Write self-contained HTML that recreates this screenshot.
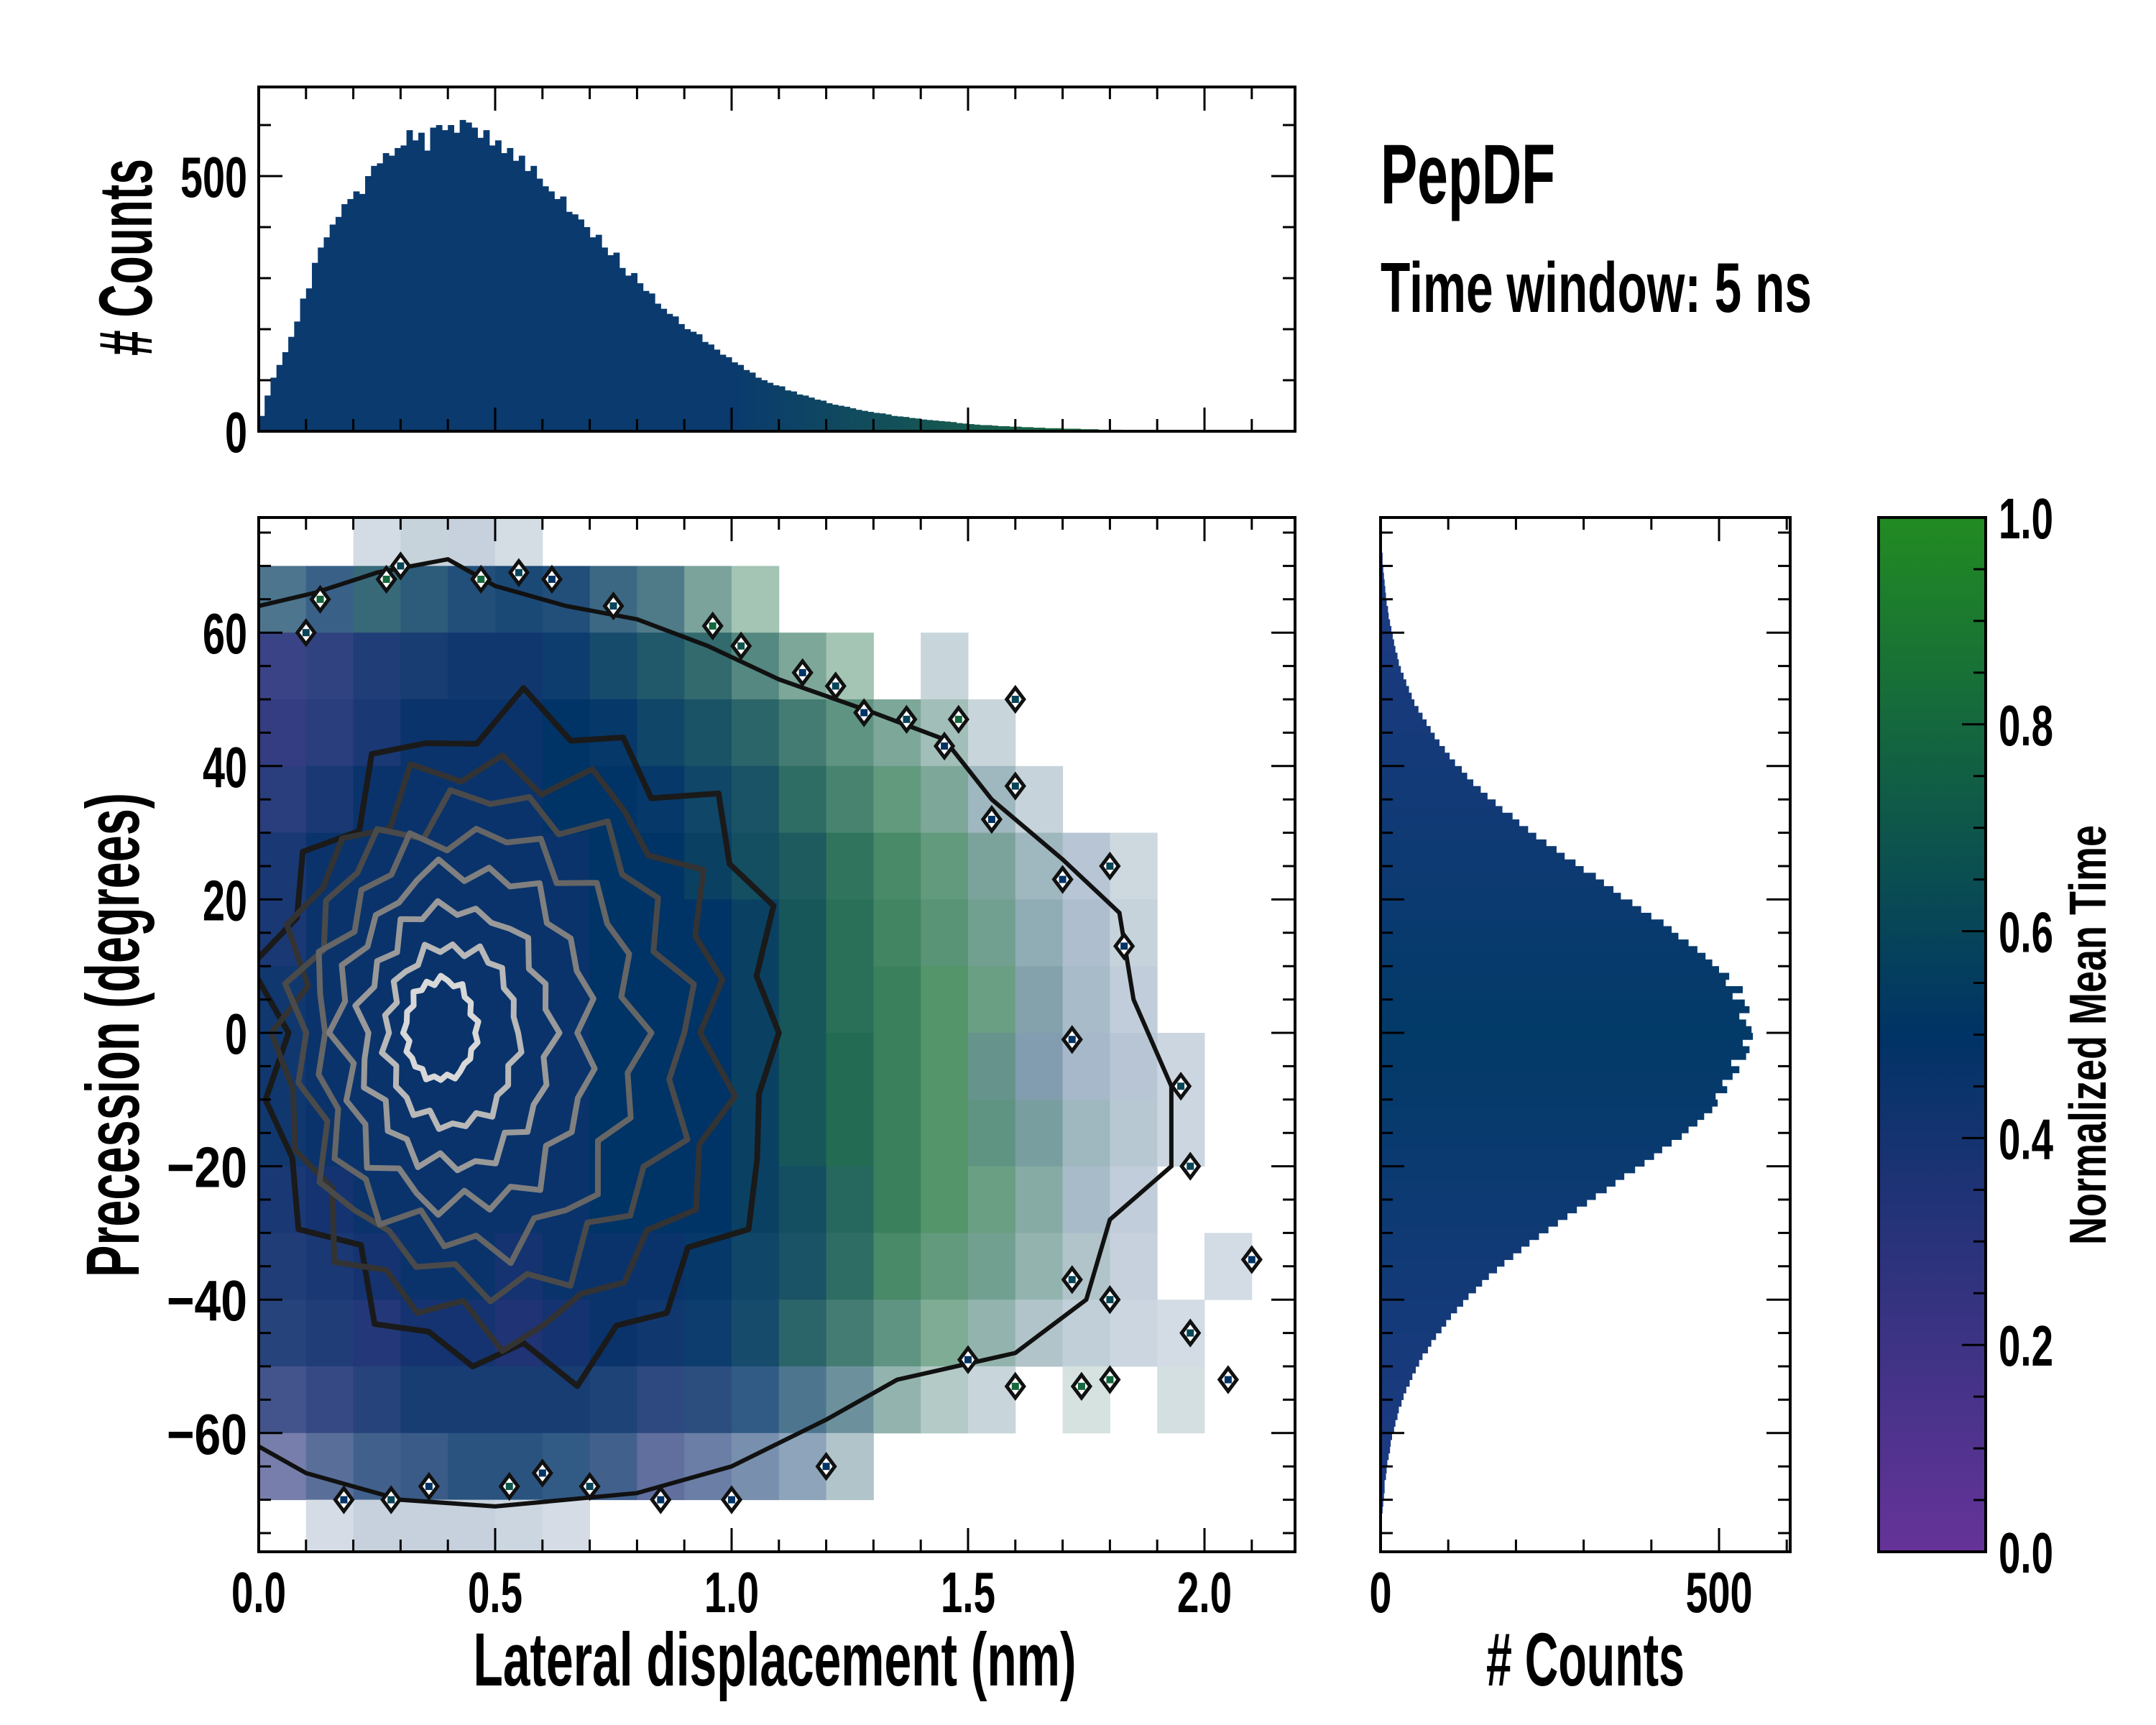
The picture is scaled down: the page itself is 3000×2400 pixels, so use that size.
<!DOCTYPE html>
<html><head><meta charset="utf-8"><style>
html,body{margin:0;padding:0;background:#fff;}
svg{display:block;}
text{font-family:"Liberation Sans Narrow","Liberation Sans",sans-serif;font-weight:bold;fill:#000;}
</style></head><body>
<svg id="fig" xmlns="http://www.w3.org/2000/svg" width="3000" height="2400" viewBox="0 0 3000 2400">
<defs>
<clipPath id="mainClip"><rect x="360" y="720" width="1442" height="1439"/></clipPath>
<linearGradient id="cbGrad" x1="0" y1="1" x2="0" y2="0">
<stop offset="0" stop-color="#663399"/><stop offset="0.5" stop-color="#003366"/><stop offset="1" stop-color="#228b22"/>
</linearGradient>
</defs>
<g id="heatLayer" clip-path="url(#mainClip)"></g>
<g id="contourLayer" clip-path="url(#mainClip)"></g>
<g id="topHist"></g>
<g id="rightHist"></g>
<rect x="2614" y="720" width="149" height="1439" fill="url(#cbGrad)"/>
<g id="ticks"></g>
<g id="frames"></g>
<g id="labels"></g>
<text x="1078" y="2345" font-size="105" text-anchor="middle" textLength="839" lengthAdjust="spacingAndGlyphs">Lateral displacement (nm)</text>
<text x="2206" y="2345" font-size="105" text-anchor="middle" textLength="276" lengthAdjust="spacingAndGlyphs"># Counts</text>
<text transform="translate(193,1440) rotate(-90)" font-size="105" text-anchor="middle" textLength="674" lengthAdjust="spacingAndGlyphs">Precession (degrees)</text>
<text transform="translate(211,358) rotate(-90)" font-size="105" text-anchor="middle" textLength="274" lengthAdjust="spacingAndGlyphs"># Counts</text>
<text transform="translate(2930,1440) rotate(-90)" font-size="72" text-anchor="middle" textLength="584" lengthAdjust="spacingAndGlyphs">Normalized Mean Time</text>
<text x="1921" y="283" font-size="118" textLength="243" lengthAdjust="spacingAndGlyphs">PepDF</text>
<text x="1921" y="434" font-size="98" textLength="600" lengthAdjust="spacingAndGlyphs">Time window: 5 ns</text>
</svg>
<script>
// ---------- DATA ----------
const latBinWidth = 0.0125;
const latCounts = [30,70,105,130,155,185,215,260,280,330,360,380,405,420,445,455,470,465,500,520,525,545,540,555,560,590,570,585,550,595,600,590,600,585,610,605,595,575,590,560,570,545,555,530,540,510,520,495,480,470,455,460,430,425,415,400,380,385,360,345,350,320,305,310,290,275,270,250,240,230,225,210,200,195,190,175,170,160,150,145,135,130,120,115,105,100,95,90,88,80,78,72,70,66,62,60,55,52,50,48,45,42,40,38,36,35,33,30,29,28,26,25,23,22,21,20,19,18,16,15,14,13,12,12,11,10,10,9,9,8,8,7,7,6,6,6,5,5,5,4,4,4,3,3,3,3,2,2,2,2,2,1,1,1,1,1];
const precStart = -72;
const precBinWidth = 1;
const precCounts = [3,4,5,6,6,8,9,10,12,14,15,17,
20,22,25,27,31,34,38,43,47,52,
57,62,70,75,82,90,97,104,113,122,
130,141,150,160,172,183,196,208,220,234,
248,262,276,290,305,318,334,347,360,376,
390,404,416,430,445,455,468,478,490,498,
495,512,505,520,530,518,540,545,535,550,
548,540,530,545,538,520,535,510,515,500,
490,480,468,455,440,430,418,400,385,372,
355,344,330,318,300,288,272,260,245,230,
218,205,195,180,170,158,148,137,128,120,
110,102,95,87,80,74,68,62,56,50,
46,42,38,34,30,27,25,22,20,18,
16,14,12,11,9,8,7,6,5,4,3,3];
const n = null;
const heatXBin = 0.1;
const heatYBin = 10;
const heatYTop = 80;
const heatValues = [
[n,n,0.5,0.55,0.5,0.55,n,n,n,n,n,n,n,n,n,n,n,n,n,n,n,n],
[0.55,0.5,0.6,0.55,0.5,0.5,0.5,0.55,0.6,0.7,0.8,n,n,n,n,n,n,n,n,n,n,n],
[0.3,0.35,0.4,0.45,0.45,0.45,0.5,0.55,0.6,0.65,0.7,0.75,0.8,n,0.6,n,n,n,n,n,n,n],
[0.3,0.35,0.4,0.45,0.45,0.45,0.5,0.5,0.55,0.6,0.65,0.7,0.75,0.75,0.7,0.6,n,n,n,n,n,n],
[0.35,0.4,0.45,0.45,0.45,0.45,0.5,0.5,0.5,0.55,0.6,0.7,0.75,0.8,0.75,0.6,0.55,n,n,n,n,n],
[0.4,0.45,0.45,0.45,0.45,0.45,0.45,0.5,0.5,0.55,0.6,0.65,0.75,0.8,0.8,0.7,0.6,0.5,0.55,n,n,n],
[0.4,0.45,0.45,0.45,0.45,0.45,0.45,0.5,0.5,0.5,0.55,0.65,0.75,0.8,0.8,0.75,0.6,0.5,0.55,n,n,n],
[0.45,0.45,0.45,0.45,0.45,0.45,0.45,0.5,0.5,0.5,0.55,0.65,0.75,0.8,0.85,0.8,0.6,0.55,0.5,n,n,n],
[0.45,0.45,0.45,0.45,0.45,0.45,0.45,0.5,0.5,0.5,0.55,0.65,0.75,0.8,0.85,0.7,0.55,0.5,0.5,0.5,n,n],
[0.45,0.45,0.45,0.45,0.45,0.45,0.45,0.5,0.5,0.5,0.55,0.65,0.75,0.8,0.85,0.75,0.65,0.6,0.55,0.5,n,n],
[0.4,0.4,0.45,0.45,0.45,0.45,0.45,0.5,0.5,0.5,0.55,0.6,0.7,0.8,0.85,0.8,0.7,0.55,0.5,n,n,n],
[0.4,0.4,0.4,0.45,0.45,0.4,0.45,0.45,0.45,0.5,0.55,0.6,0.7,0.8,0.8,0.75,0.7,0.6,0.5,n,0.5,n],
[0.4,0.4,0.35,0.4,0.4,0.35,0.4,0.45,0.45,0.5,0.55,0.65,0.7,0.75,0.8,0.7,0.6,0.55,0.5,0.5,n,n],
[0.35,0.35,0.4,0.45,0.45,0.45,0.45,0.45,0.4,0.45,0.5,0.55,0.6,0.7,0.7,0.6,n,0.7,n,0.6,n,n],
[0.3,0.4,0.45,0.45,0.5,0.5,0.5,0.45,0.35,0.4,0.45,0.5,0.6,n,n,n,n,n,n,n,n,n],
[n,0.45,0.5,0.5,0.5,0.5,0.45,n,n,n,n,n,n,n,n,n,n,n,n,n,n,n]];
const heatOccupancy = [
[0,0,.03,.05,.05,.03,0,0,0,0,0,0,0,0,0,0,0,0,0,0,0,0],
[.5,.6,.65,.7,.75,.8,.75,.6,.5,.3,.15,0,0,0,0,0,0,0,0,0,0,0],
[.85,.85,.9,.9,.95,.95,.9,.85,.8,.7,.5,.3,.15,0,.05,0,0,0,0,0,0,0],
[.9,.9,.95,1,1,1,1,.95,.9,.85,.75,.6,.45,.3,.15,.05,0,0,0,0,0,0],
[.9,.95,1,1,1,1,1,1,.95,.9,.85,.75,.6,.45,.3,.15,.05,0,0,0,0,0],
[.95,1,1,1,1,1,1,1,1,.95,.9,.85,.75,.6,.45,.3,.15,.08,.04,0,0,0],
[.95,1,1,1,1,1,1,1,1,1,.95,.9,.8,.65,.5,.35,.2,.1,.05,0,0,0],
[.95,1,1,1,1,1,1,1,1,1,.95,.9,.8,.7,.55,.4,.25,.12,.06,0,0,0],
[.95,1,1,1,1,1,1,1,1,1,.95,.9,.85,.7,.55,.4,.25,.12,.08,.04,0,0],
[.95,1,1,1,1,1,1,1,1,1,.95,.9,.85,.7,.55,.45,.3,.15,.08,.04,0,0],
[.95,1,1,1,1,1,1,1,1,1,.95,.9,.8,.7,.55,.4,.25,.12,.06,0,0,0],
[.9,.95,1,1,1,1,1,1,1,.95,.9,.85,.75,.6,.45,.35,.2,.1,.05,0,.03,0],
[.85,.9,.95,1,1,1,1,1,.95,.9,.85,.75,.6,.45,.3,.2,.1,.06,.04,.03,0,0],
[.7,.8,.85,.9,.9,.9,.9,.85,.8,.75,.65,.5,.35,.2,.1,.05,0,.03,0,.03,0,0],
[.4,.5,.6,.65,.7,.7,.65,.6,.5,.4,.3,.2,.1,0,0,0,0,0,0,0,0,0],
[0,.03,.05,.05,.05,.04,.03,0,0,0,0,0,0,0,0,0,0,0,0,0,0,0]];
const contourLeft = [0.02,0.05,0.08,0.12,0.17,0.22,0.27,0.31];
const contourRight = [1.1,0.98,0.9,0.8,0.7,0.62,0.55,0.46];
const contourTop = [47,40,35,30,25,19,13,8];
const contourBottom = [-50,-45,-38,-32,-26,-20,-14,-7];
const contourJitter = [1,0.93,1.06,0.97,1.08,0.9,1.02,0.95,1.1,0.94,1.0,1.07,0.91,1.04,0.96,1.09,0.92,1.03,0.98,1.06,0.9,1.05,0.97,1.02,0.93,1.08,0.95,1.01,0.91,1.06,0.99,0.94];
const outerContour = [[0.0,64],[0.12,66],[0.25,69],[0.4,71],[0.5,67],[0.65,64],[0.8,62],[0.95,58],[1.1,53],[1.3,48],[1.45,44],[1.55,35],[1.7,26],[1.82,18],[1.85,5],[1.93,-8],[1.93,-20],[1.8,-28],[1.75,-40],[1.6,-48],[1.35,-52],[1.2,-58],[1.0,-65],[0.8,-69],[0.5,-71],[0.3,-70],[0.1,-66],[0.0,-62]];
const islandX = [0.1,0.13,0.27,0.3,0.47,0.55,0.62,0.75,0.96,1.02,1.15,1.22,1.28,1.37,1.48,1.6,1.45,1.6,1.55,1.8,1.7,1.83,1.95,1.72,1.97,2.1,1.97,2.05,1.8,1.6,1.74,1.5,1.72,1.8,0.6,0.7,0.85,1.0,1.2,0.53,0.18,0.28,0.36];
const islandY = [60,65,68,70,68,69,68,64,61,58,54,52,48,47,47,50,43,37,32,25,23,13,-8,-1,-20,-34,-45,-52,-52,-53,-53,-49,-37,-40,-66,-68,-70,-70,-65,-68,-70,-70,-68];
const islandVal = [0.6,0.8,0.8,0.6,0.8,0.6,0.5,0.6,0.8,0.7,0.5,0.6,0.5,0.6,0.8,0.6,0.5,0.6,0.5,0.6,0.5,0.5,0.6,0.5,0.6,0.5,0.6,0.5,0.8,0.8,0.8,0.5,0.6,0.6,0.5,0.6,0.5,0.5,0.5,0.7,0.5,0.6,0.5];
const xTickLabels = ["0.0","0.5","1.0","1.5","2.0"];
const yTickLabels = ["\u221260","\u221240","\u221220","0","20","40","60"];
const countTickLabels = ["0","500"];
const cbTickLabels = ["0.0","0.2","0.4","0.6","0.8","1.0"];

// ---------- SCALES ----------
const NS = "http://www.w3.org/2000/svg";
const mainL=360, mainR=1802, mainT=720, mainB=2159;
const topT=121, topB=600;
const rhL=1921, rhR=2491;
const cbL=2614, cbR=2763;
function xNm(v){return mainL + v*658;}
function yDeg(v){return 1437 - v*9.28;}
function yTopCount(c){return topB - c*0.71;}
function xRightCount(c){return rhL + c*0.942;}
function yCb(v){return mainB - v*(mainB-mainT);}
function mk(tag, attrs, parent){const e=document.createElementNS(NS,tag);for(const k in attrs)e.setAttribute(k,attrs[k]);parent.appendChild(e);return e;}
function lerp(a,b,t){return a+(b-a)*t;}
function cmapRGB(v){
  const s0=[102,51,153], s1=[0,51,102], s2=[34,139,34];
  let a,b,t; if(v<=0.5){a=s0;b=s1;t=v/0.5;} else {a=s1;b=s2;t=(v-0.5)/0.5;}
  return [lerp(a[0],b[0],t),lerp(a[1],b[1],t),lerp(a[2],b[2],t)];
}
function rgbStr(c){return "rgb("+c.map(x=>Math.round(x)).join(",")+")";}
function withWhite(c,f){return [lerp(255,c[0],f),lerp(255,c[1],f),lerp(255,c[2],f)];}

// ---------- HEATMAP ----------
const heat=document.getElementById('heatLayer');
heatValues.forEach((row,r)=>{
  row.forEach((v,c)=>{
    const occ=heatOccupancy[r][c];
    if(v===null||occ<=0)return;
    const yHi=heatYTop - r*heatYBin, yLo=yHi-heatYBin;
    const x0=xNm(c*heatXBin), x1=xNm((c+1)*heatXBin);
    const el=mk('rect',{x:x0,y:yDeg(yHi),width:x1-x0+0.5,height:yDeg(yLo)-yDeg(yHi)+0.5,fill:rgbStr(withWhite(cmapRGB(v),Math.sqrt(occ)))},heat);
    
    
  });
});

// ---------- CONTOURS ----------
const cl=document.getElementById('contourLayer');
const contourColors=['#1a1a1a','#333','#4a4a4a','#666','#808080','#9a9a9a','#b8b8b8','#d8d8d8'];
contourLeft.forEach((xl,i)=>{
  const cx=(xl+contourRight[i])/2, ax=(contourRight[i]-xl)/2;
  const N=contourJitter.length; let d='';
  for(let k=0;k<N;k++){
    const th=2*Math.PI*k/N; const f=contourJitter[(k+i*5)%N];
    const s=Math.sin(th); const ry=s>=0?contourTop[i]:-contourBottom[i];
    const px=xNm(cx+ax*Math.cos(th)*f), py=yDeg(ry*s*f);
    d+=(k?'L':'M')+px.toFixed(1)+','+py.toFixed(1);
  }
  const p=mk('path',{d:d+'Z',fill:'none',stroke:contourColors[i],'stroke-width':8,'stroke-linejoin':'round'},cl);
  
  
});
{
  let d=''; outerContour.forEach((p,k)=>{d+=(k?'L':'M')+xNm(p[0]).toFixed(1)+','+yDeg(p[1]).toFixed(1);});
  const p=mk('path',{d:d,fill:'none',stroke:'#111','stroke-width':6,'stroke-linejoin':'miter'},cl);
  
  
}
islandX.forEach((x,i)=>{
  const px=xNm(x), py=yDeg(islandY[i]);
  const g=mk('g',{},cl);
  
  
  mk('polygon',{points:`${px},${py-16} ${px+12},${py} ${px},${py+16} ${px-12},${py}`,fill:'#fff',stroke:'#111','stroke-width':5},g);
  mk('rect',{x:px-5,y:py-5,width:10,height:10,fill:rgbStr(cmapRGB(islandVal[i]))},g);
});

// ---------- TOP HISTOGRAM ----------
const th=document.getElementById('topHist');
latCounts.forEach((c,i)=>{
  const x0=xNm(i*latBinWidth), x1=xNm((i+1)*latBinWidth);
  const mid=(i+0.5)*latBinWidth;
  const t=Math.max(0,Math.min(1,(mid-1.0)/0.8));
  const col=[lerp(10,30,t),lerp(58,110,t),lerp(110,60,t)];
  const el=mk('rect',{x:x0,y:yTopCount(c),width:x1-x0+0.6,height:topB-yTopCount(c),fill:rgbStr(col)},th);
  
  
});

// ---------- RIGHT HISTOGRAM ----------
const rh=document.getElementById('rightHist');
precCounts.forEach((c,i)=>{
  const lo=precStart+i*precBinWidth, hi=lo+precBinWidth;
  const t=Math.min(1,Math.abs(lo+0.5)/60);
  const col=[lerp(2,28,t),lerp(58,58,t),lerp(104,128,t)];
  const el=mk('rect',{x:rhL,y:yDeg(hi),width:xRightCount(c)-rhL,height:yDeg(lo)-yDeg(hi)+0.5,fill:rgbStr(col)},rh);
  
  
});

// ---------- TICKS ----------
const tk=document.getElementById('ticks');
function tick(x1,y1,x2,y2,w){mk('line',{x1:x1,y1:y1,x2:x2,y2:y2,stroke:'#000','stroke-width':w||3},tk);}
const MAJ=33, MIN=17;
for(let k=0;k<=21;k++){const v=k*0.1; const px=xNm(v); const L=(k%5===0)?MAJ:MIN;
  tick(px,mainB,px,mainB-L); tick(px,mainT,px,mainT+L);
  tick(px,topB,px,topB-L); tick(px,topT,px,topT+L);}
for(let v=-75;v<=75;v+=5){const py=yDeg(v); const L=(v%20===0)?MAJ:MIN;
  tick(mainL,py,mainL+L,py); tick(mainR,py,mainR-L,py);
  tick(rhL,py,rhL+L,py); tick(rhR,py,rhR-L,py);}
for(let c=0;c<=600;c+=100){const L=(c%500===0)?MAJ:MIN;
  const py=yTopCount(c); tick(mainL,py,mainL+L,py); tick(mainR,py,mainR-L,py);
  const px=xRightCount(c); tick(px,mainB,px,mainB-L); tick(px,mainT,px,mainT+L);}
for(let k=0;k<=20;k++){const v=k*0.05; const py=yCb(v); const L=(k%4===0)?MAJ:MIN; tick(cbR,py,cbR-L,py);}

// ---------- FRAMES ----------
const fr=document.getElementById('frames');
[[mainL,mainT,mainR,mainB,'main-plot-frame'],[mainL,topT,mainR,topB,'top-hist-frame'],[rhL,mainT,rhR,mainB,'right-hist-frame'],[cbL,mainT,cbR,mainB,'colorbar-frame']].forEach(f=>{
  const r=mk('rect',{x:f[0],y:f[1],width:f[2]-f[0],height:f[3]-f[1],fill:'none',stroke:'#000','stroke-width':4},fr);
  
  
});

// ---------- TICK LABELS ----------
const lb=document.getElementById('labels');
function tw(s){let w=0;for(const ch of s){w+= ch==='.'?14:(ch==='\u2212'?50:31);}return w;}
function label(s,x,y,anchor,name){
  const t=mk('text',{x:x,y:y,'font-size':80,'text-anchor':anchor,textLength:tw(s),lengthAdjust:'spacingAndGlyphs'},lb);
  t.textContent=s;
  
  
}
xTickLabels.forEach((s,i)=>label(s,xNm(i*0.5),2243,'middle','x-tick-label'));
yTickLabels.forEach((s,i)=>label(s,344,yDeg(-60+i*20)+29,'end','y-tick-label'));
countTickLabels.forEach((s,i)=>label(s,344,yTopCount(i*500)+29,'end','top-hist-y-tick-label'));
countTickLabels.forEach((s,i)=>label(s,xRightCount(i*500),2243,'middle','right-hist-x-tick-label'));
cbTickLabels.forEach((s,i)=>label(s,2781,yCb(i*0.2)+29,'start','colorbar-tick-label'));
</script>
</body></html>
